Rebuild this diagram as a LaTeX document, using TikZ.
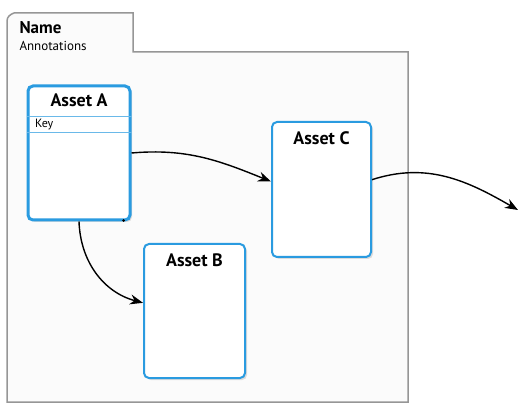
\documentclass[tikz,border=0pt]{standalone}
\usepackage{fontspec}
\setmainfont{PT Sans}
\usetikzlibrary{arrows.meta,shadows}
\definecolor{assetblue}{RGB}{42,155,224}
\definecolor{framegray}{RGB}{150,150,150}
\tikzset{
  asset/.style={draw=assetblue,line width=2pt,rounded corners=5pt,fill=white,
    minimum width=#1,inner sep=0pt,
    drop shadow={opacity=0.25,shadow xshift=2pt,shadow yshift=-2pt}},
  assettitle/.style={font=\fontsize{18}{18}\selectfont\bfseries},
  flow/.style={-{Stealth[length=13pt,width=10pt]},line width=1.4pt}
}
\begin{document}
\begin{tikzpicture}[x=1pt,y=1pt]
\useasboundingbox (0,0) rectangle (520,405);
%frame
\draw[framegray,line width=1.5pt,fill=gray!3] (7,3) -- (7,384) to[out=90,in=200] (14,392)
  -- (133,392) -- (133,353) -- (408,353) -- (408,3) -- cycle;
\node[anchor=west,font=\fontsize{17}{17}\selectfont\bfseries] (name) at (16,377) {Name};
\node[anchor=west,font=\fontsize{13}{13}\selectfont] (annot) at (16,359) {Annotations};

%asset A
\node[asset=102pt,minimum height=134pt,line width=3pt] (assetA) at (79,252) {};
\node[assettitle] (titleA) at ([yshift=-16pt]assetA.north) {Asset A};
\draw[assetblue!70,line width=0.8pt] ([yshift=-32pt]assetA.north west) -- ([yshift=-32pt]assetA.north east);
\draw[assetblue!70,line width=0.8pt] ([yshift=-48pt]assetA.north west) -- ([yshift=-48pt]assetA.north east);
\node[anchor=west,font=\fontsize{12}{12}\selectfont] (keyA) at ([xshift=5pt,yshift=-40pt]assetA.north west) {Key};
\fill ([xshift=-8pt,yshift=1pt]assetA.south east) circle (1.5);

%asset B
\node[asset=101pt,minimum height=134pt] (assetB) at (194.5,94) {};
\node[assettitle] (titleB) at ([yshift=-17pt]assetB.north) {Asset B};

%asset C
\node[asset=99pt,minimum height=135pt] (assetC) at (321.5,215.5) {};
\node[assettitle] (titleC) at ([yshift=-17pt]assetC.north) {Asset C};

%connections
\coordinate (exit) at (518,195);
\draw[flow] (assetA.east) to[out=5,in=158] (assetC.171);
\draw[flow] (assetA.south) to[out=-88,in=165] (assetB.171);
\draw[flow] (assetC.11) to[out=18,in=150] (exit);
\end{tikzpicture}
\end{document}
